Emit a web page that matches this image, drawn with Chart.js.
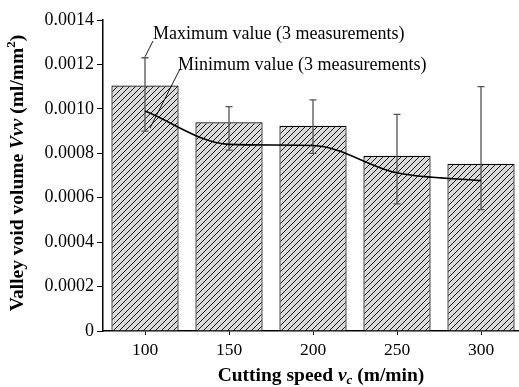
<!DOCTYPE html>
<html>
<head>
<meta charset="utf-8">
<script src="https://cdn.jsdelivr.net/npm/chart.js@4.4.1/dist/chart.umd.min.js"></script>
<style>
  html, body { margin: 0; padding: 0; background: #fff; overflow: hidden; }
  #wrap { width: 524px; height: 387px; position: relative; }
</style>
</head>
<body>
<div id="wrap"><canvas id="vvvChart"></canvas></div>
<script>
// cutting speed (m/min)
const speeds = ['100', '150', '200', '250', '300'];
// mean valley void volume (ml/mm2)
const vvvMean = [0.001105, 0.00094, 0.000924, 0.000789, 0.000753];
// max / min of the 3 measurements
const vvvMax = [0.00123, 0.00101, 0.00104, 0.000975, 0.0011];
const vvvMin = [0.0009, 0.000814, 0.0008, 0.000572, 0.000546];
// smooth trend line
const vvvTrend = [0.00099, 0.00084, 0.000835, 0.000712, 0.000677];
const yTicks = [0, 0.0002, 0.0004, 0.0006, 0.0008, 0.0010, 0.0012, 0.0014];

const SERIF = '"Liberation Serif", "Times New Roman", serif';

function hatch() {
  const s = 6;
  const c = document.createElement('canvas');
  c.width = s; c.height = s;
  const g = c.getContext('2d');
  g.fillStyle = '#dadada';
  g.fillRect(0, 0, s, s);
  g.strokeStyle = '#1a1a1a';
  g.lineWidth = 1;
  g.beginPath();
  g.moveTo(0, s); g.lineTo(s, 0);
  g.moveTo(-1, 1); g.lineTo(1, -1);
  g.moveTo(s - 1, s + 1); g.lineTo(s + 1, s - 1);
  g.stroke();
  return g.createPattern(c, 'repeat');
}

// draws a line of text made of pieces with different fonts
function richText(ctx, parts, cx, cy) {
  let total = 0;
  for (let p of parts) {
    ctx.font = p.font;
    p.w = ctx.measureText(p.t).width;
    total += p.w;
  }
  let x = cx - total / 2;
  ctx.textAlign = 'left';
  ctx.textBaseline = 'middle';
  for (let p of parts) {
    ctx.font = p.font;
    ctx.fillText(p.t, x, cy + (p.dy || 0));
    x += p.w;
  }
}

const errorBars = {
  id: 'errorBars',
  afterDatasetDraw(chart, args) {
    if (args.index !== 0) return;
    const ctx = chart.ctx;
    const y = chart.scales.y;
    const meta = chart.getDatasetMeta(0);
    ctx.save();
    ctx.strokeStyle = '#555';
    ctx.lineWidth = 1.3;
    meta.data.forEach((bar, i) => {
      const yHi = y.getPixelForValue(vvvMax[i]);
      const yLo = y.getPixelForValue(vvvMin[i]);
      ctx.beginPath();
      ctx.moveTo(bar.x, yHi); ctx.lineTo(bar.x, yLo);
      ctx.moveTo(bar.x - 3.5, yHi); ctx.lineTo(bar.x + 3.5, yHi);
      ctx.moveTo(bar.x - 3.5, yLo); ctx.lineTo(bar.x + 3.5, yLo);
      ctx.stroke();
    });
    ctx.restore();
  }
};

const labels = {
  id: 'labels',
  afterDraw(chart) {
    const ctx = chart.ctx;
    const x = chart.scales.x;
    const y = chart.scales.y;
    const x0 = x.getPixelForValue(0);
    ctx.save();
    ctx.fillStyle = '#000';
    ctx.strokeStyle = '#000';
    ctx.lineWidth = 0.9;

    // leader lines + notes
    ctx.beginPath();
    ctx.moveTo(x0, y.getPixelForValue(vvvMax[0]) - 1);
    ctx.lineTo(x0 + 8, 41);
    ctx.moveTo(x0 + 5, y.getPixelForValue(vvvMin[0]) - 3);
    ctx.lineTo(x0 + 35, 69);
    ctx.stroke();
    ctx.font = '18px ' + SERIF;
    ctx.textAlign = 'left';
    ctx.textBaseline = 'middle';
    ctx.fillText('Maximum value (3 measurements)', x0 + 8, 34);
    ctx.fillText('Minimum value (3 measurements)', x0 + 33, 65);

    const b = 'bold 19.5px ' + SERIF;
    const bi = 'italic bold 19.5px ' + SERIF;
    richText(ctx, [
      { t: 'Cutting speed ', font: b },
      { t: 'v', font: bi },
      { t: 'c', font: 'italic bold 13px ' + SERIF, dy: 5 },
      { t: ' (m/min)', font: b }
    ], 321, 376);

    ctx.translate(18, 173);
    ctx.rotate(-Math.PI / 2);
    richText(ctx, [
      { t: 'Valley void volume ', font: b },
      { t: 'Vvv', font: bi },
      { t: ' (ml/mm', font: b },
      { t: '2', font: 'bold 13px ' + SERIF, dy: -6 },
      { t: ')', font: b }
    ], 0, 0);
    ctx.restore();
  }
};

new Chart(document.getElementById('vvvChart'), {
  data: {
    labels: speeds,
    datasets: [{
      type: 'bar',
      data: vvvMean,
      backgroundColor: hatch(),
      borderColor: '#000',
      borderWidth: 1.2,
      categoryPercentage: 1,
      barPercentage: 0.8,
      order: 2
    }, {
      type: 'line',
      data: vvvTrend,
      borderColor: '#000',
      borderWidth: 1.6,
      pointRadius: 0,
      fill: false,
      cubicInterpolationMode: 'monotone',
      order: 1
    }]
  },
  plugins: [errorBars, labels],
  options: {
    responsive: true,
    maintainAspectRatio: false,
    animation: false,
    layout: { padding: { top: 20, right: 1, left: 0, bottom: 0 } },
    plugins: { legend: { display: false }, tooltip: { enabled: false } },
    scales: {
      x: {
        offset: true,
        grid: { display: true, offset: false, drawOnChartArea: false, tickLength: 4, color: '#000' },
        border: { color: '#000', width: 1.5 },
        ticks: { color: '#000', padding: 5, font: { family: SERIF, size: 17.5 } },
        afterFit(s) { s.height = 56; }
      },
      y: {
        min: 0,
        max: 0.0014,
        afterBuildTicks(s) { s.ticks = yTicks.map(v => ({ value: v })); },
        grid: { display: true, drawOnChartArea: false, tickLength: 6, color: '#000' },
        border: { color: '#000', width: 1.5 },
        ticks: {
          color: '#000', padding: 3,
          font: { family: SERIF, size: 18 },
          callback: v => v === 0 ? '0' : v.toFixed(4)
        },
        afterFit(s) { s.width = 103; }
      }
    }
  }
});
</script>
</body>
</html>
